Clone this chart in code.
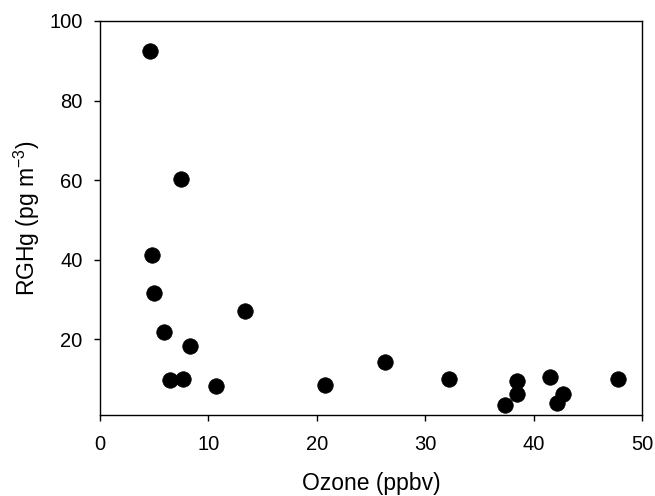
import numpy as np, pandas as pd, matplotlib.pyplot as plt, seaborn as sns

# Ozone vs reactive gaseous mercury
ozone = [4.6, 7.5, 4.8, 5.0, 5.9, 13.4, 8.3, 6.5, 7.7, 10.7, 20.8,
         26.3, 32.2, 38.5, 38.5, 37.4, 41.5, 42.7, 42.2, 47.8]
rghg = [92.4, 60.2, 41.2, 31.6, 21.9, 27.1, 18.3, 9.7, 10.0, 8.3, 8.5,
        14.3, 10.0, 9.5, 6.1, 3.5, 10.5, 6.1, 3.9, 10.0]
df = pd.DataFrame({"ozone": ozone, "rghg": rghg})

sns.set_style("ticks")
plt.rcParams["font.family"] = ["Liberation Sans", "DejaVu Sans"]

fig = plt.figure(figsize=(6.55, 4.96), dpi=100)
ax = fig.add_axes([0.1527, 0.1633, 0.8273, 0.7944])
sns.scatterplot(data=df, x="ozone", y="rghg", ax=ax, color="black",
                edgecolor="black", s=125, linewidth=0.5)
ax.set_xlim(0, 50); ax.set_ylim(0.9, 100)
ax.set_xticks([0, 10, 20, 30, 40, 50]); ax.set_yticks([20, 40, 60, 80, 100])
ax.tick_params(labelsize=14.5, direction="out", length=4.5, width=1, colors="black")
ax.tick_params(axis="x", pad=10)
ax.tick_params(axis="y", pad=8)
for s in ax.spines.values(): s.set_color("black"); s.set_linewidth(1)
ax.set_xlabel("Ozone (ppbv)", fontsize=16.5, labelpad=13, color="black")
ax.set_ylabel("RGHg (pg m$^{\\mathregular{-3}}$)", fontsize=16.5, labelpad=5, color="black")
plt.savefig("out.png", dpi=100)
